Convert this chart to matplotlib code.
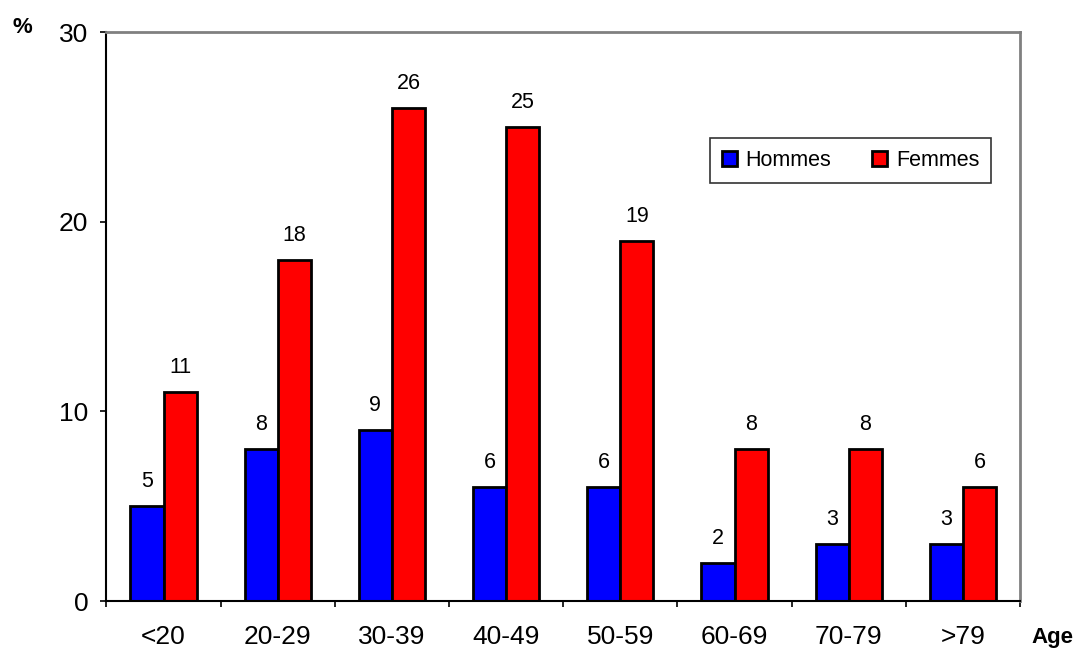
import matplotlib
matplotlib.use('Agg')
import matplotlib.pyplot as plt
import numpy as np

plt.rcParams['font.family'] = ['Liberation Sans', 'DejaVu Sans']

categories = ['<20', '20-29', '30-39', '40-49', '50-59', '60-69', '70-79', '>79']
hommes = [5, 8, 9, 6, 6, 2, 3, 3]
femmes = [11, 18, 26, 25, 19, 8, 8, 6]

fig = plt.figure(figsize=(10.82, 6.51), dpi=100)
ax = fig.add_axes([0.0984, 0.0768, 0.8443, 0.874])

x = np.arange(len(categories)) + 0.5
w = 0.29
b1 = ax.bar(x - w / 2, hommes, w, color='#0000ff', edgecolor='black', linewidth=2, label='Hommes')
b2 = ax.bar(x + w / 2, femmes, w, color='#ff0000', edgecolor='black', linewidth=2, label='Femmes')

for rects, vals in [(b1, hommes), (b2, femmes)]:
    for r, v in zip(rects, vals):
        ax.annotate(str(v), (r.get_x() + r.get_width() / 2, v), xytext=(0, 10),
                    textcoords='offset points', ha='center', va='bottom', fontsize=15.5)

ax.set_xlim(0, len(categories))
ax.set_ylim(0, 30)
ax.set_yticks([0, 10, 20, 30])
ax.set_xticks(np.arange(len(categories) + 1))
ax.set_xticklabels([])
ax.set_xticks(x, minor=True)
ax.set_xticklabels(categories, minor=True, fontsize=19)
ax.tick_params(axis='x', which='minor', length=0, pad=17)
ax.tick_params(axis='x', which='major', length=4, width=1.2, direction='out', color='black')
ax.tick_params(axis='y', length=4, width=1.2, direction='out', labelsize=19, pad=9)

ax.spines['left'].set_linewidth(1.5)
ax.spines['bottom'].set_linewidth(1.5)
ax.spines['top'].set_color('#808080')
ax.spines['right'].set_color('#808080')
ax.spines['top'].set_linewidth(2)
ax.spines['right'].set_linewidth(2)

leg = ax.legend(loc='upper left', bbox_to_anchor=(0.6607, 0.8137), borderaxespad=0, ncol=2,
                fontsize=15.5, frameon=True, fancybox=False, handlelength=0.7, handleheight=0.7,
                handletextpad=0.4, columnspacing=1.9, borderpad=0.55)
leg.get_frame().set_edgecolor('black')
leg.get_frame().set_linewidth(1.2)

fig.text(0.0203, 0.958, '%', fontsize=16, fontweight='bold', ha='center', va='center')
fig.text(0.973, 0.0215, 'Age', fontsize=16, fontweight='bold', ha='center', va='center')

fig.savefig('out.png', dpi=100)
